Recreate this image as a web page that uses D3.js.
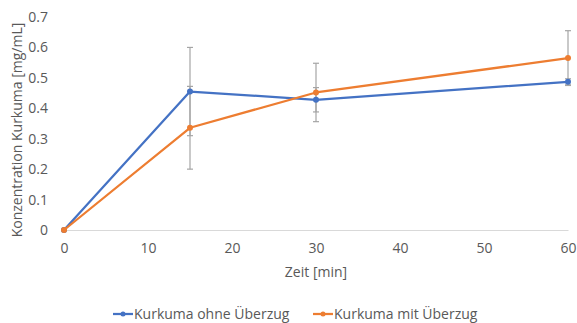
<!DOCTYPE html>
<html>
<head>
<meta charset="utf-8">
<script src="https://cdn.jsdelivr.net/npm/d3@7"></script>
<style>
  html, body { margin: 0; padding: 0; background: #fff; }
  svg { display: block; }
</style>
</head>
<body>
<svg id="chart" width="577" height="323"></svg>
<script>
// Zeitpunkte und Messwerte
const times = [0, 15, 30, 60];
const seriesNames = ["Kurkuma ohne Überzug", "Kurkuma mit Überzug"];
const ohneValues = [0, 0.455, 0.428, 0.487];
const ohneErrors = [0, 0.145, 0.04, 0.01];
const mitValues = [0, 0.336, 0.452, 0.565];
const mitErrors = [0, 0.136, 0.096, 0.09];
const xTicks = [0, 10, 20, 30, 40, 50, 60];
const yTicks = [0, 0.1, 0.2, 0.3, 0.4, 0.5, 0.6, 0.7];
const colors = ["#4472C4", "#ED7D31"];

const series = [
  { name: seriesNames[0], values: ohneValues, errors: ohneErrors, color: colors[0] },
  { name: seriesNames[1], values: mitValues, errors: mitErrors, color: colors[1] }
];

const font = "'Open Sans', Lato, sans-serif";
const fontSize = "14px";
const svg = d3.select("#chart");
const margin = { left: 64, right: 9, top: 17, bottom: 93 };
const width = 577 - margin.left - margin.right;
const height = 323 - margin.top - margin.bottom;

const x = d3.scaleLinear().domain([0, 60]).range([0, width]);
const y = d3.scaleLinear().domain([0, 0.7]).range([height, 0]);

const g = svg.append("g").attr("transform", `translate(${margin.left},${margin.top})`);

// Achsen
const xAxis = g.append("g")
  .attr("transform", `translate(0,${height})`)
  .call(d3.axisBottom(x).tickValues(xTicks).tickSize(0).tickPadding(13));
xAxis.select(".domain").attr("stroke", "#d9d9d9").attr("stroke-width", 1);

const yAxis = g.append("g")
  .call(d3.axisLeft(y).tickValues(yTicks).tickSize(0).tickPadding(16)
    .tickFormat(d => d === 0 ? "0" : d3.format(".1f")(d)));
yAxis.select(".domain").remove();

g.selectAll(".tick text")
  .attr("fill", "#595959")
  .style("font-family", font)
  .style("font-size", fontSize);

// Fehlerbalken
const capW = 3;
series.forEach(s => {
  const eb = g.append("g").attr("stroke", "#a5a5a5").attr("stroke-width", 1.2);
  times.forEach((t, i) => {
    const e = s.errors[i];
    if (!e) return;
    const cx = x(t), y1 = y(s.values[i] + e), y0 = y(s.values[i] - e);
    eb.append("line").attr("x1", cx).attr("x2", cx).attr("y1", y1).attr("y2", y0);
    eb.append("line").attr("x1", cx - capW).attr("x2", cx + capW).attr("y1", y1).attr("y2", y1);
    eb.append("line").attr("x1", cx - capW).attr("x2", cx + capW).attr("y1", y0).attr("y2", y0);
  });
});

// Linien und Marker
const line = d3.line().x((d, i) => x(times[i])).y(d => y(d));
series.forEach(s => {
  g.append("path")
    .datum(s.values)
    .attr("fill", "none")
    .attr("stroke", s.color)
    .attr("stroke-width", 2.25)
    .attr("stroke-linejoin", "round")
    .attr("d", line);
  g.selectAll(null)
    .data(s.values)
    .enter().append("circle")
    .attr("cx", (d, i) => x(times[i]))
    .attr("cy", d => y(d))
    .attr("r", 3)
    .attr("fill", s.color);
});

// Achsentitel
svg.append("text")
  .attr("x", margin.left + width / 2)
  .attr("y", 277)
  .attr("text-anchor", "middle")
  .attr("fill", "#595959")
  .style("font-family", font)
  .style("font-size", fontSize)
  .text("Zeit [min]");

svg.append("text")
  .attr("transform", "translate(22,130) rotate(-90)")
  .attr("text-anchor", "middle")
  .attr("fill", "#595959")
  .style("font-family", font)
  .style("font-size", fontSize)
  .text("Konzentration Kurkuma [mg/mL]");

// Legende
const legendX = [113, 313];
series.forEach((s, i) => {
  const lg = svg.append("g").attr("transform", `translate(${legendX[i]},314)`);
  lg.append("line").attr("x1", 0).attr("x2", 20).attr("y1", 0).attr("y2", 0)
    .attr("stroke", s.color).attr("stroke-width", 2.25);
  lg.append("circle").attr("cx", 10).attr("cy", 0).attr("r", 2.5).attr("fill", s.color);
  lg.append("text")
    .attr("x", 21).attr("y", 0).attr("dy", "0.35em")
    .attr("fill", "#595959")
    .style("font-family", font)
    .style("font-size", fontSize)
    .text(s.name);
});
</script>
</body>
</html>
